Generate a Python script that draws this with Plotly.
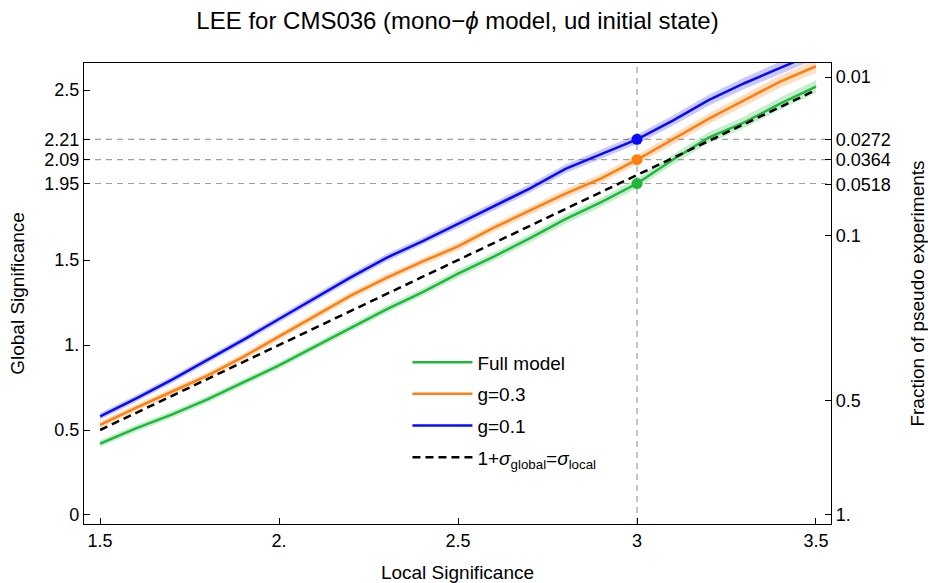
import math
import plotly.graph_objects as go

# ---- data ----
local_sig = [1.5, 1.6, 1.7, 1.8, 1.9, 2.0, 2.1, 2.2, 2.3, 2.4, 2.5,
             2.6, 2.7, 2.8, 2.9, 3.0, 3.1, 3.2, 3.3, 3.4, 3.5]
full_model = [0.42, 0.51, 0.59, 0.68, 0.78, 0.88, 0.99, 1.10, 1.21, 1.31, 1.42,
              1.52, 1.627, 1.74, 1.84, 1.95, 2.09, 2.22, 2.31, 2.42, 2.52]
g03 = [0.53, 0.63, 0.725, 0.82, 0.93, 1.05, 1.17, 1.29, 1.395, 1.49, 1.58,
       1.69, 1.79, 1.89, 1.98, 2.09, 2.21, 2.33, 2.44, 2.55, 2.64]
g01 = [0.58, 0.685, 0.795, 0.91, 1.03, 1.153, 1.276, 1.398, 1.513, 1.61, 1.713,
       1.816, 1.92, 2.036, 2.125, 2.21, 2.32, 2.44, 2.54, 2.63, 2.72]
band_err = [0.02, 0.02, 0.02, 0.02, 0.02, 0.02, 0.02, 0.022, 0.022, 0.022, 0.024,
            0.024, 0.025, 0.026, 0.027, 0.028, 0.03, 0.032, 0.034, 0.036, 0.038]
ref_x = 3.0
left_ticks = [0, 0.5, 1.0, 1.5, 1.95, 2.09, 2.21, 2.5]
left_labels = ["0", "0.5", "1.", "1.5", "1.95", "2.09", "2.21", "2.5"]
highlight = [1.95, 2.09, 2.21]
p_ticks = [0.01, 0.0272, 0.0364, 0.0518, 0.1, 0.5, 1.0]
p_labels = ["0.01", "0.0272", "0.0364", "0.0518", "0.1", "0.5", "1."]
x_ticks = [1.5, 2.0, 2.5, 3.0, 3.5]
x_labels = ["1.5", "2.", "2.5", "3", "3.5"]


def p_to_sigma(p):
    lo, hi = 0.0, 10.0
    for _ in range(100):
        mid = 0.5 * (lo + hi)
        if math.erfc(mid / math.sqrt(2)) > p:
            lo = mid
        else:
            hi = mid
    return 0.5 * (lo + hi)


sigma_ticks = [p_to_sigma(p) for p in p_ticks]

FONT = "Liberation Sans, Arial, sans-serif"
GREEN = "#1fb83c"
ORANGE = "#ff7f0e"
BLUE = "#0a0af5"
BANDS = {GREEN: "rgba(31,184,60,0.25)", ORANGE: "rgba(255,127,14,0.25)",
         BLUE: "rgba(10,10,245,0.22)"}

fig = go.Figure()

series = [("Full model", full_model, GREEN), ("g=0.3", g03, ORANGE), ("g=0.1", g01, BLUE)]
for name, vals, col in series:
    lower = [v - e for v, e in zip(vals, band_err)]
    upper = [v + e for v, e in zip(vals, band_err)]
    fig.add_trace(go.Scatter(x=local_sig, y=lower, mode="lines", line=dict(width=0),
                             showlegend=False, hoverinfo="skip"))
    fig.add_trace(go.Scatter(x=local_sig, y=upper, mode="lines", line=dict(width=0),
                             fill="tonexty", fillcolor=BANDS[col], showlegend=False,
                             hoverinfo="skip"))

for i, (name, vals, col) in enumerate(series):
    fig.add_trace(go.Scatter(x=local_sig, y=vals, mode="lines", name=name,
                             line=dict(color=col, width=2.5), legendgroup=str(i)))

fig.add_trace(go.Scatter(x=local_sig, y=[x - 1 for x in local_sig], mode="lines",
                         name="1+<i>σ</i><sub>global</sub>=<i>σ</i><sub>local</sub>",
                         line=dict(color="black", width=2.5, dash="8px,5px"),
                         legendgroup="3"))

idx = local_sig.index(ref_x)
for name, vals, col in series:
    fig.add_trace(go.Scatter(x=[ref_x], y=[vals[idx]], mode="markers",
                             marker=dict(color=col, size=11), showlegend=False))

# invisible trace for right axis
fig.add_trace(go.Scatter(x=[ref_x], y=[1.0], yaxis="y2", mode="markers",
                         marker=dict(opacity=0), showlegend=False, hoverinfo="skip"))

x_range = [1.455, 3.542]
y_range = [-0.053, 2.659]

for h in highlight:
    fig.add_shape(type="line", xref="x", yref="y", x0=x_range[0], x1=x_range[1], y0=h, y1=h,
                  line=dict(color="#a0a0a0", width=1.2, dash="6px,5px"), layer="below")
fig.add_shape(type="line", xref="x", yref="y", x0=ref_x, x1=ref_x, y0=y_range[0], y1=y_range[1],
              line=dict(color="#a0a0a0", width=1.2, dash="6px,5px"), layer="below")

axis_common = dict(showgrid=False, zeroline=False, showline=True, linecolor="black",
                   linewidth=1.2, ticks="inside", ticklen=6, tickcolor="black",
                   automargin=False,
                   tickfont=dict(family=FONT, size=18, color="black"))

fig.update_layout(
    width=928, height=583,
    margin=dict(l=84, r=97, t=63, b=59),
    plot_bgcolor="white", paper_bgcolor="white",
    font=dict(family=FONT, color="black"),
    title=dict(text="LEE for CMS036 (mono−<i>ϕ</i> model, ud initial state)",
               x=0.5, xref="paper", y=0.965, yref="container", xanchor="center",
               yanchor="middle",
               font=dict(family=FONT, size=24, color="black")),
    xaxis=dict(range=x_range, tickvals=x_ticks, ticktext=x_labels, mirror=True,
               title=dict(text="Local Significance", font=dict(family=FONT, size=19), standoff=18),
               **axis_common),
    yaxis=dict(range=y_range, tickvals=left_ticks, ticktext=left_labels,
               title=dict(text="Global Significance", font=dict(family=FONT, size=19), standoff=14),
               **axis_common),
    yaxis2=dict(range=y_range, overlaying="y", side="right", tickvals=sigma_ticks,
                ticktext=p_labels,
                title=dict(text="Fraction of pseudo experiments", font=dict(family=FONT, size=19),
                           standoff=21),
                **axis_common),
    legend=dict(x=0.433, y=0.392, xanchor="left", yanchor="top", bgcolor="rgba(0,0,0,0)",
                font=dict(family=FONT, size=19, color="black"), traceorder="grouped",
                tracegroupgap=4, itemwidth=60),
    showlegend=True,
)

fig.write_html("out.html")
